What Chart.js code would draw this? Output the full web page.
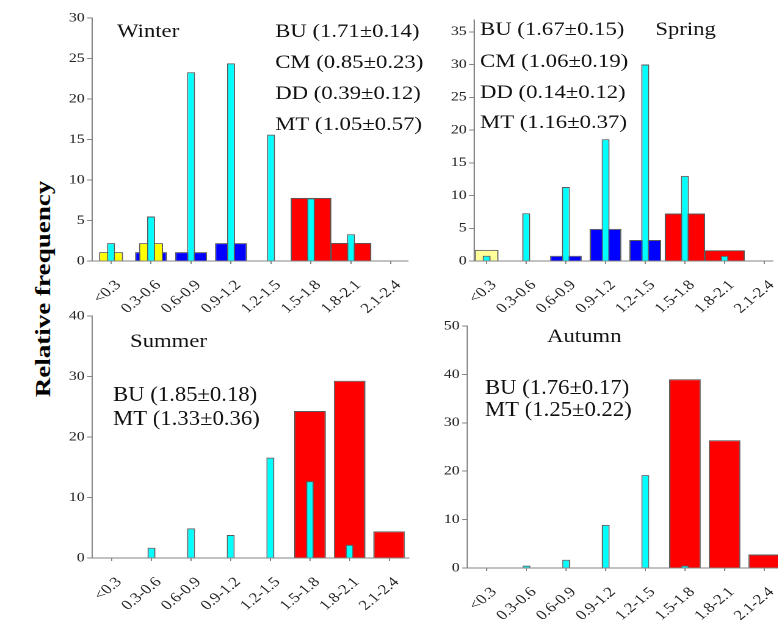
<!DOCTYPE html>
<html>
<head>
<meta charset="utf-8">
<script src="https://cdn.jsdelivr.net/npm/chart.js@4"></script>
<style>
  body { margin: 0; background: #fff; width: 778px; height: 639px; overflow: hidden; position: relative; }
  canvas { position: absolute; }
  #ylab {
    position: absolute; left: 43px; top: 289px; white-space: nowrap;
    font: bold 22px "Liberation Serif", "Times New Roman", serif; color: #000;
    transform: translate(-50%, -50%) rotate(-90deg) scaleX(1.23);
  }
</style>
</head>
<body>
<div id="ylab">Relative frequency</div>
<canvas id="winter"></canvas>
<canvas id="spring"></canvas>
<canvas id="summer"></canvas>
<canvas id="autumn"></canvas>
<script>
// size classes shared by all panels
const categories = ["<0.3", "0.3-0.6", "0.6-0.9", "0.9-1.2", "1.2-1.5", "1.5-1.8", "1.8-2.1", "2.1-2.4"];

// winter
const winterBU = [0, 0, 0, 0, 0, 7.75, 2.2, 0];
const winterCM = [0, 1.1, 1.1, 2.2, 0, 0, 0, 0];
const winterDD = [1.1, 2.2, 0, 0, 0, 0, 0, 0];
const winterMT = [2.2, 5.5, 23.3, 24.4, 15.6, 7.75, 3.3, 0];

// spring
const springBU = [0, 0, 0, 0, 0, 7.2, 1.6, 0];
const springCM = [0, 0, 0.8, 4.9, 3.2, 0, 0, 0];
const springDD = [1.7, 0, 0, 0, 0, 0, 0, 0];
const springMT = [0.8, 7.3, 11.3, 18.6, 30.0, 13.0, 0.8, 0];

// summer
const summerBU = [0, 0, 0, 0, 0, 24.3, 29.3, 4.4];
const summerMT = [0, 1.7, 4.9, 3.8, 16.6, 12.7, 2.2, 0];

// autumn
const autumnBU = [0, 0, 0, 0, 0, 39.0, 26.4, 2.8];
const autumnMT = [0, 0.5, 1.7, 8.9, 19.2, 0.5, 0, 0];

const SX = 1.22;   // the figure is stretched sideways
const FONT = '"Liberation Serif", "Times New Roman", serif';
const AXIS = '#858585';

function points(vals) {
  return vals.map((v, i) => ({ x: i, y: v })).filter(p => p.y > 0);
}

function ds(vals, color, width) {
  return {
    data: points(vals), backgroundColor: color, borderColor: '#5a5a5a', borderWidth: 1,
    grouped: false, categoryPercentage: 1, barPercentage: width
  };
}

function panel(id, box, datasets, yMax, yStep, notes, sy) {
  const padL = 45, padR = 20, padT = 14, padB = 62;
  const cv = document.getElementById(id);
  const w = Math.round((box.right - box.left + padL + padR) / SX);
  const h = box.bottom - box.top + padT + padB;
  const cLeft = box.left - padL, cTop = box.top - padT;
  cv.width = w; cv.height = h;
  cv.style.left = cLeft + 'px';
  cv.style.top = cTop + 'px';
  cv.style.width = (w * SX) + 'px';
  cv.style.height = h + 'px';

  const notePlugin = {
    id: 'notes',
    afterDraw(chart) {
      const ctx = chart.ctx;
      ctx.save();
      ctx.fillStyle = '#111';
      ctx.font = '18.6px ' + FONT;
      ctx.textBaseline = 'alphabetic';
      notes.forEach(n => {
        ctx.save();
        ctx.translate((n[1] - cLeft) / SX, n[2] - cTop);
        ctx.scale(1, n[3] ? sy : 1);
        ctx.fillText(n[0], 0, 0);
        ctx.restore();
      });
      ctx.restore();
    }
  };

  new Chart(cv, {
    type: 'bar',
    data: { datasets: datasets },
    plugins: [notePlugin],
    options: {
      responsive: false,
      maintainAspectRatio: false,
      devicePixelRatio: 2,
      animation: false,
      layout: { padding: { left: 0, top: padT, right: padR / SX, bottom: 0 } },
      plugins: { legend: { display: false }, tooltip: { enabled: false } },
      scales: {
        x: {
          type: 'linear', min: box.xMin, max: box.xMax, offset: false,
          afterBuildTicks: s => { s.ticks = categories.map((c, i) => ({ value: i })); },
          afterFit: s => { s.height = padB; s.paddingLeft = 0; s.paddingRight = 0; },
          ticks: {
            callback: (v, i) => categories[i], autoSkip: false,
            minRotation: 45, maxRotation: 45, padding: 13, labelOffset: 6,
            font: { family: FONT, size: 14 }, color: '#222'
          },
          grid: { offset: false, drawOnChartArea: false, tickLength: 3, color: AXIS },
          border: { color: AXIS, width: 1 }
        },
        y: {
          min: 0, max: yMax,
          afterBuildTicks: s => {
            const t = [];
            for (let v = 0; v <= yMax; v += yStep) t.push({ value: v });
            s.ticks = t;
          },
          afterFit: s => { s.width = padL / SX; s.paddingTop = 0; s.paddingBottom = 0; },
          ticks: { stepSize: yStep, padding: 2, font: { family: FONT, size: 13 }, color: '#222' },
          grid: { drawOnChartArea: false, tickLength: 4, color: AXIS },
          border: { color: AXIS, width: 1 }
        }
      }
    }
  });
}

panel('winter', { left: 92, right: 408, top: 18, bottom: 261, xMin: -0.475, xMax: 7.425 }, [
  ds(winterMT, '#00ffff', 0.2),
  ds(winterDD, '#ffff00', 0.6),
  ds(winterCM, '#0000ff', 0.8),
  ds(winterBU, '#ff0000', 1.0)
], 30, 5, [
  ['Winter', 117, 37],
  ['BU (1.71\u00b10.14)', 275, 37],
  ['CM (0.85\u00b10.23)', 275, 68],
  ['DD (0.39\u00b10.12)', 275, 99],
  ['MT (1.05\u00b10.57)', 275, 130]
], 1);

panel('spring', { left: 474, right: 773, top: 20, bottom: 261, xMin: -0.315, xMax: 7.22 }, [
  ds(springMT, '#00ffff', 0.2),
  ds(springDD, '#ffff99', 0.6),
  ds(springCM, '#0000ff', 0.8),
  ds(springBU, '#ff0000', 1.0)
], 36.8, 5, [
  ['BU (1.67\u00b10.15)', 480, 35],
  ['CM (1.06\u00b10.19)', 480, 67],
  ['DD (0.14\u00b10.12)', 480, 98],
  ['MT (1.16\u00b10.37)', 480, 128],
  ['Spring', 655, 35]
], 1);

panel('summer', { left: 92, right: 409, top: 316, bottom: 558, xMin: -0.5, xMax: 7.5 }, [
  ds(summerMT, '#00ffff', 0.2),
  ds(summerBU, '#ff0000', 0.8)
], 40, 10, [
  ['Summer', 130, 347],
  ['BU (1.85\u00b10.18)', 113, 401, true],
  ['MT (1.33\u00b10.36)', 113, 425, true]
], 1.12);

panel('autumn', { left: 467, right: 784, top: 326, bottom: 568, xMin: -0.5, xMax: 7.5 }, [
  ds(autumnMT, '#00ffff', 0.2),
  ds(autumnBU, '#ff0000', 0.8)
], 50, 10, [
  ['Autumn', 547, 342],
  ['BU (1.76\u00b10.17)', 485, 394, true],
  ['MT (1.25\u00b10.22)', 485, 416, true]
], 1.12);
</script>
</body>
</html>
